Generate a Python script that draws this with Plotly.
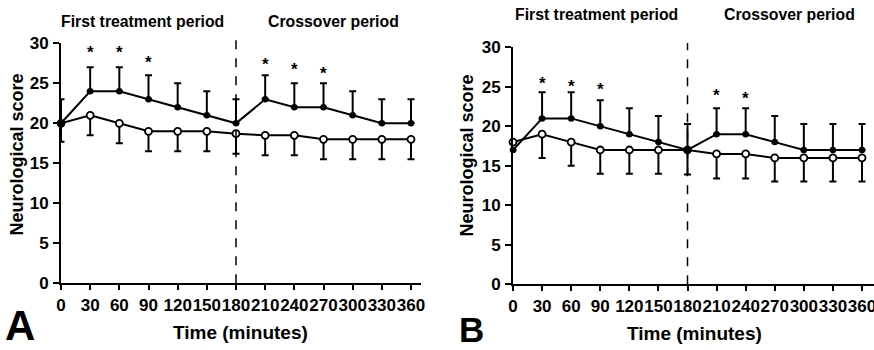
import plotly.graph_objects as go

# ---------------- data ----------------
time_min = [0, 30, 60, 90, 120, 150, 180, 210, 240, 270, 300, 330, 360]
x_ticks = [0, 30, 60, 90, 120, 150, 180, 210, 240, 270, 300, 330, 360]
y_ticks = [0, 5, 10, 15, 20, 25, 30]

# Panel A
a_treat = [20, 24, 24, 23, 22, 21, 20, 23, 22, 22, 21, 20, 20]
a_treat_err = [3, 3, 3, 3, 3, 3, 3, 3, 3, 3, 3, 3, 3]
a_ctrl = [20, 21, 20, 19, 19, 19, 18.7, 18.5, 18.5, 18, 18, 18, 18]
a_ctrl_err = [2.3, 2.5, 2.5, 2.5, 2.5, 2.5, 2.5, 2.5, 2.5, 2.5, 2.5, 2.5, 2.5]
a_star_t = [30, 60, 90, 210, 240, 270]
a_star_y = [29.4, 29.4, 28.1, 27.8, 27.2, 26.7]

# Panel B
b_treat = [17, 21, 21, 20, 19, 18, 17, 19, 19, 18, 17, 17, 17]
b_treat_err = [0, 3.3, 3.3, 3.3, 3.3, 3.3, 3.3, 3.3, 3.3, 3.3, 3.3, 3.3, 3.3]
b_ctrl = [18, 19, 18, 17, 17, 17, 17, 16.5, 16.5, 16, 16, 16, 16]
b_ctrl_err = [0, 3, 3, 3, 3, 3, 3.1, 3.1, 3.1, 3, 3, 3, 3]
b_star_t = [30, 60, 90, 210, 240]
b_star_y = [25.9, 25.5, 25.2, 24.4, 24.0]

period_labels = ["First treatment period", "Crossover period"]
crossover_time = 180

W, H = 874, 350
FONT = "Liberation Sans, Arial, sans-serif"

fig = go.Figure()
ann = []

def add_panel(xa, ya, treat, treat_err, ctrl, ctrl_err, star_t, star_y):
    zeros = [0] * len(time_min)
    fig.add_trace(go.Scatter(
        x=time_min, y=ctrl, xaxis=xa, yaxis=ya, mode="lines+markers",
        line=dict(color="black", width=2),
        marker=dict(symbol="circle", size=7, color="white",
                    line=dict(color="black", width=1.8)),
        error_y=dict(type="data", symmetric=False, array=zeros,
                     arrayminus=ctrl_err, color="black", thickness=2, width=3.5),
        cliponaxis=False, showlegend=False))
    fig.add_trace(go.Scatter(
        x=time_min, y=treat, xaxis=xa, yaxis=ya, mode="lines+markers",
        line=dict(color="black", width=2),
        marker=dict(symbol="circle", size=6.5, color="black"),
        error_y=dict(type="data", symmetric=False, array=treat_err,
                     arrayminus=zeros, color="black", thickness=2, width=3.5),
        cliponaxis=False, showlegend=False))
    for t, v in zip(star_t, star_y):
        ann.append(dict(text="*", xref=xa, yref=ya, x=t, y=v, xanchor="center",
                        yanchor="middle", yshift=-4, showarrow=False,
                        font=dict(family=FONT, size=17, color="black", weight="bold")))

add_panel("x", "y", a_treat, a_treat_err, a_ctrl, a_ctrl_err, a_star_t, a_star_y)
add_panel("x2", "y2", b_treat, b_treat_err, b_ctrl, b_ctrl_err, b_star_t, b_star_y)

tickfont = dict(family=FONT, size=17, color="black", weight="bold")
common_x = dict(showline=True, linewidth=2, linecolor="black", ticks="outside",
                ticklen=5, tickwidth=2, tickcolor="black", showgrid=False,
                zeroline=False, tickmode="array", tickvals=x_ticks, tickangle=0,
                automargin=False, ticklabeloverflow="allow",
                ticktext=[str(v) for v in x_ticks], tickfont=tickfont, ticklabelstandoff=0)
common_y = dict(showline=True, linewidth=2, linecolor="black", ticks="outside",
                ticklen=6, tickwidth=2, tickcolor="black", showgrid=False,
                zeroline=False, tickmode="array", tickvals=y_ticks, automargin=False,
                ticktext=[str(v) for v in y_ticks], tickfont=tickfont,
                range=[0, 30], ticklabelstandoff=1)

fig.update_layout(
    width=W, height=H, margin=dict(l=0, r=0, t=0, b=0, autoexpand=False),
    paper_bgcolor="white", plot_bgcolor="white",
    font=dict(family=FONT, color="black"),
    xaxis=dict(domain=[61 / W, 421 / W], range=[0, 360 * 360 / 350], anchor="y", **common_x),
    yaxis=dict(domain=[1 - 283.3 / H, 1 - 43.3 / H], anchor="x", **common_y),
    xaxis2=dict(domain=[513 / W, 1.0], range=[0, (W - 513) * 360 / 349], anchor="y2", **common_x),
    yaxis2=dict(domain=[1 - 284.3 / H, 1 - 47.3 / H], anchor="x2", **common_y),
)

# dashed crossover lines
fig.add_shape(type="line", xref="x", yref="paper", x0=crossover_time, x1=crossover_time,
              y0=1 - 283.3 / H, y1=1 - 35 / H, line=dict(color="black", width=1.5, dash="dash"))
fig.add_shape(type="line", xref="x2", yref="paper", x0=crossover_time, x1=crossover_time,
              y0=1 - 284.3 / H, y1=1 - 43 / H, line=dict(color="black", width=1.5, dash="dash"))

def txt(text, xref, x, y, font, **kw):
    d = dict(text=text, xref=xref, yref="paper", x=x, y=y, font=font, showarrow=False,
             xanchor="center", yanchor="middle")
    d.update(kw)
    ann.append(d)

head_font = dict(family=FONT, size=15.8, color="black", weight="bold")
# period headings
txt(period_labels[0], "x", 84, 1 - 22 / H, head_font)
txt(period_labels[1], "x", 280, 1 - 22 / H, head_font)
txt(period_labels[0], "x2", 86.6, 1 - 15 / H, head_font)
txt(period_labels[1], "x2", 284.7, 1 - 15 / H, head_font)
# axis titles
ytitle_font = dict(family=FONT, size=18, color="black", weight="bold")
xtitle_font = dict(family=FONT, size=19, color="black", weight="bold")
txt("Neurological score", "paper", 16 / W, 1 - 154.5 / H, ytitle_font, textangle=-90)
txt("Neurological score", "paper", 466 / W, 1 - 155.5 / H, ytitle_font, textangle=-90)
txt("Time (minutes)", "paper", 240 / W, 1 - 332 / H, xtitle_font)
txt("Time (minutes)", "paper", 694 / W, 1 - 333 / H, xtitle_font)
# panel letters
txt("A", "paper", 20 / W, 0, dict(family=FONT, size=42, color="black", weight="bold"),
    yanchor="bottom", borderpad=0)
txt("B", "paper", 471 / W, 0, dict(family=FONT, size=35, color="black", weight="bold"),
    yanchor="bottom", borderpad=0)
fig.update_layout(annotations=ann)

fig.write_html("out.html", config={"displayModeBar": False},
               post_script="document.body.style.margin='0';")
